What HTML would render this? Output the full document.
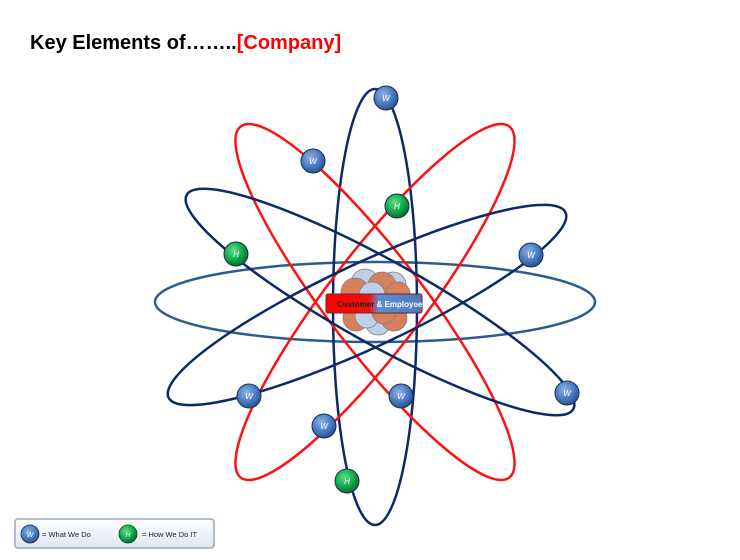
<!DOCTYPE html>
<html><head><meta charset="utf-8"><style>
body{margin:0;width:740px;height:555px;background:#fff;overflow:hidden;font-family:"Liberation Sans",sans-serif}
</style></head><body>
<svg width="740" height="555" xmlns="http://www.w3.org/2000/svg">
<defs>
<radialGradient id="gw" cx="40%" cy="35%" r="65%"><stop offset="0" stop-color="#8fb3e6"/><stop offset="0.6" stop-color="#4a7cc4"/><stop offset="1" stop-color="#2c548f"/></radialGradient>
<radialGradient id="gh" cx="40%" cy="35%" r="65%"><stop offset="0" stop-color="#5de08a"/><stop offset="0.6" stop-color="#12a84a"/><stop offset="1" stop-color="#0a6e2f"/></radialGradient>
<linearGradient id="lb" x1="0" y1="0" x2="1" y2="0"><stop offset="0" stop-color="#ff0000"/><stop offset="0.45" stop-color="#ee1010"/><stop offset="0.55" stop-color="#5f8fd0"/><stop offset="1" stop-color="#4a78bf"/></linearGradient>
<linearGradient id="lg" x1="0" y1="0" x2="0" y2="1"><stop offset="0" stop-color="#fff"/><stop offset="1" stop-color="#dfe6f0"/></linearGradient>
</defs>
<text x="30" y="49" font-size="20" font-weight="bold" fill="#000">Key Elements of……..<tspan fill="#ff0000">[Company]</tspan></text>
<g fill="none" stroke-width="2.5">
<ellipse cx="375" cy="302" rx="220" ry="40" stroke="#2e5a8e"/>
<ellipse cx="375" cy="307" rx="42" ry="218" stroke="#0d2a66"/>
<ellipse cx="375" cy="302" rx="221" ry="48" stroke="#ff1111" transform="rotate(52.6 375 302)"/>
<ellipse cx="375" cy="302" rx="221" ry="48" stroke="#ff1111" transform="rotate(-52.6 375 302)"/>
<ellipse cx="380" cy="302" rx="221" ry="42" stroke="#0d2a66" transform="rotate(29 380 302)"/>
<ellipse cx="367" cy="305" rx="219" ry="42" stroke="#0d2a66" transform="rotate(-25 367 305)"/>
</g>
<g stroke="#555" stroke-width="0.8" opacity="0.75">
<circle cx="365" cy="283" r="14" fill="#a9c0e0"/>
<circle cx="393" cy="285" r="13" fill="#a9c0e0"/>
<circle cx="355" cy="292" r="14" fill="#c9562a"/>
<circle cx="382" cy="286" r="14" fill="#c9562a"/>
<circle cx="398" cy="294" r="12" fill="#c9562a"/>
<circle cx="372" cy="295" r="13" fill="#a9c0e0"/>
<circle cx="356" cy="318" r="13" fill="#c9562a"/>
<circle cx="378" cy="322" r="13" fill="#a9c0e0"/>
<circle cx="394" cy="318" r="13" fill="#c9562a"/>
<circle cx="367" cy="316" r="12" fill="#a9c0e0"/>
<circle cx="384" cy="312" r="12" fill="#c9562a"/>
</g>
<rect x="326" y="294" width="96" height="19" rx="2" fill="url(#lb)" stroke="#7a2020" stroke-width="1"/>
<text x="337" y="307" font-size="8" font-weight="bold" fill="#222">Customer <tspan fill="#fff">&amp; Employee</tspan></text>
<g stroke="#1a2e50" stroke-width="1">
<circle cx="386" cy="98" r="12" fill="url(#gw)"/>
<circle cx="313" cy="161" r="12" fill="url(#gw)"/>
<circle cx="531" cy="255" r="12" fill="url(#gw)"/>
<circle cx="249" cy="396" r="12" fill="url(#gw)"/>
<circle cx="401" cy="396" r="12" fill="url(#gw)"/>
<circle cx="567" cy="393" r="12" fill="url(#gw)"/>
<circle cx="324" cy="426" r="12" fill="url(#gw)"/>
<circle cx="397" cy="206" r="12" fill="url(#gh)"/>
<circle cx="236" cy="254" r="12" fill="url(#gh)"/>
<circle cx="347" cy="481" r="12" fill="url(#gh)"/>
</g>
<g font-size="8" font-style="italic" fill="#fff" text-anchor="middle">
<text x="386" y="101">W</text><text x="313" y="164">W</text><text x="531" y="258">W</text>
<text x="249" y="399">W</text><text x="401" y="399">W</text><text x="567" y="396">W</text><text x="324" y="429">W</text>
<text x="397" y="209">H</text><text x="236" y="257">H</text><text x="347" y="484">H</text>
</g>
<rect x="15" y="519" width="199" height="29" rx="3" fill="url(#lg)" stroke="#9aa8bb" stroke-width="1.5"/>
<circle cx="30" cy="534" r="9" fill="url(#gw)" stroke="#1a2e50" stroke-width="0.8"/>
<text x="30" y="537" font-size="7" font-style="italic" fill="#fff" text-anchor="middle">W</text>
<text x="42" y="537" font-size="7.5" fill="#222">= What We Do</text>
<circle cx="128" cy="534" r="9" fill="url(#gh)" stroke="#0a4020" stroke-width="0.8"/>
<text x="128" y="537" font-size="7" font-style="italic" fill="#fff" text-anchor="middle">H</text>
<text x="142" y="537" font-size="7.5" fill="#222">= How We Do IT</text>
</svg>
</body></html>
